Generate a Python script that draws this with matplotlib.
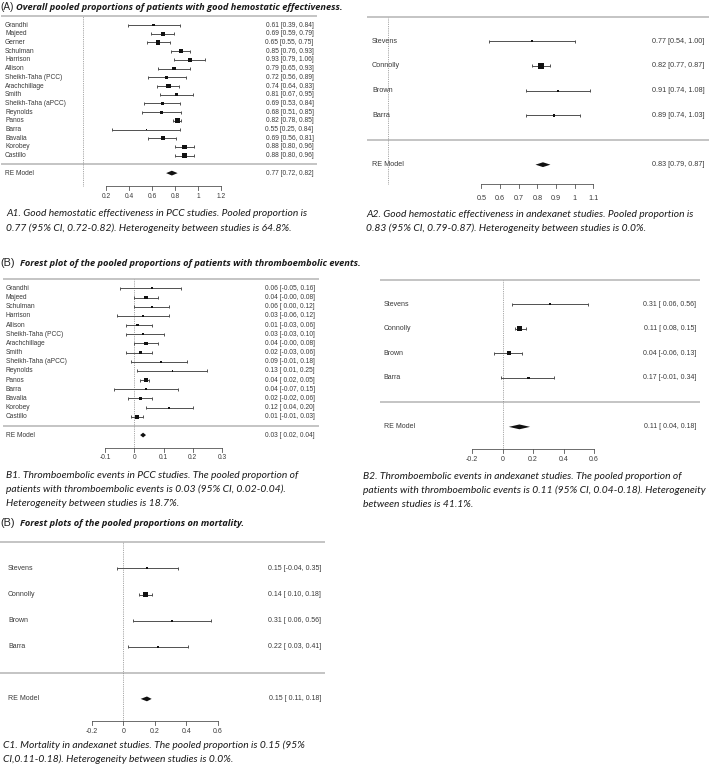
import numpy as np
import matplotlib.pyplot as plt
from matplotlib.patches import Polygon

W, H = 709, 764

# A1. good hemostatic effectiveness, PCC studies
a1_study = ["Grandhi", "Majeed", "Gerner", "Schulman", "Harrison", "Allison",
            "Sheikh-Taha (PCC)", "Arachchillage", "Smith", "Sheikh-Taha (aPCC)",
            "Reynolds", "Panos", "Barra", "Bavalia", "Korobey", "Castillo"]
a1_est = [0.61, 0.69, 0.65, 0.85, 0.93, 0.79, 0.72, 0.74, 0.81, 0.69, 0.68, 0.82, 0.55, 0.69, 0.88, 0.88]
a1_lo = [0.39, 0.59, 0.55, 0.76, 0.79, 0.65, 0.56, 0.64, 0.67, 0.53, 0.51, 0.78, 0.25, 0.56, 0.80, 0.80]
a1_hi = [0.84, 0.79, 0.75, 0.93, 1.06, 0.93, 0.89, 0.83, 0.95, 0.84, 0.85, 0.85, 0.84, 0.81, 0.96, 0.96]
a1_pool = [0.77, 0.72, 0.82]
a1_ticks = [0.2, 0.4, 0.6, 0.8, 1, 1.2]

# A2. good hemostatic effectiveness, andexanet studies
a2_study = ["Stevens", "Connolly", "Brown", "Barra"]
a2_est = [0.77, 0.82, 0.91, 0.89]
a2_lo = [0.54, 0.77, 0.74, 0.74]
a2_hi = [1.00, 0.87, 1.08, 1.03]
a2_pool = [0.83, 0.79, 0.87]
a2_ticks = [0.5, 0.6, 0.7, 0.8, 0.9, 1, 1.1]

# B1. thromboembolic events, PCC studies
b1_study = ["Grandhi", "Majeed", "Schulman", "Harrison", "Allison", "Sheikh-Taha (PCC)",
            "Arachchillage", "Smith", "Sheikh-Taha (aPCC)", "Reynolds", "Panos", "Barra",
            "Bavalia", "Korobey", "Castillo"]
b1_est = [0.06, 0.04, 0.06, 0.03, 0.01, 0.03, 0.04, 0.02, 0.09, 0.13, 0.04, 0.04, 0.02, 0.12, 0.01]
b1_lo = [-0.05, -0.0, 0.00, -0.06, -0.03, -0.03, -0.0, -0.03, -0.01, 0.01, 0.02, -0.07, -0.02, 0.04, -0.01]
b1_hi = [0.16, 0.08, 0.12, 0.12, 0.06, 0.10, 0.08, 0.06, 0.18, 0.25, 0.05, 0.15, 0.06, 0.20, 0.03]
b1_pool = [0.03, 0.02, 0.04]
b1_ticks = [-0.1, 0, 0.1, 0.2, 0.3]

# B2. thromboembolic events, andexanet studies
b2_study = ["Stevens", "Connolly", "Brown", "Barra"]
b2_est = [0.31, 0.11, 0.04, 0.17]
b2_lo = [0.06, 0.08, -0.06, -0.01]
b2_hi = [0.56, 0.15, 0.13, 0.34]
b2_pool = [0.11, 0.04, 0.18]
b2_ticks = [-0.2, 0, 0.2, 0.4, 0.6]

# C1. mortality, andexanet studies
c1_study = ["Stevens", "Connolly", "Brown", "Barra"]
c1_est = [0.15, 0.14, 0.31, 0.22]
c1_lo = [-0.04, 0.10, 0.06, 0.03]
c1_hi = [0.35, 0.18, 0.56, 0.41]
c1_pool = [0.15, 0.11, 0.18]
c1_ticks = [-0.2, 0, 0.2, 0.4, 0.6]

a1_caption = ["A1. Good hemostatic effectiveness in PCC studies. Pooled proportion is",
              "0.77 (95% CI, 0.72-0.82). Heterogeneity between studies is 64.8%."]
a2_caption = ["A2. Good hemostatic effectiveness in andexanet studies. Pooled proportion is",
              "0.83 (95% CI, 0.79-0.87). Heterogeneity between studies is 0.0%."]
b1_caption = ["B1. Thromboembolic events in PCC studies. The pooled proportion of",
              "patients with thromboembolic events is 0.03 (95% CI, 0.02-0.04).",
              "Heterogeneity between studies is 18.7%."]
b2_caption = ["B2. Thromboembolic events in andexanet studies. The pooled proportion of",
              "patients with thromboembolic events is 0.11 (95% CI, 0.04-0.18). Heterogeneity",
              "between studies is 41.1%."]
c1_caption = ["C1. Mortality in andexanet studies. The pooled proportion is 0.15 (95%",
              "CI,0.11-0.18). Heterogeneity between studies is 0.0%."]

SANS = "Liberation Sans"
CAP = "Lato"
HEAD = "Open Sans"
TXT = "#3a3a3a"

fig = plt.figure(figsize=(W / 100, H / 100), dpi=100)


def psizes(est, lo, hi):
    # random-effects weights (DerSimonian-Laird), squeezed into 0.5 .. 1.5
    y = np.array(est)
    v = ((np.array(hi) - np.array(lo)) / (2 * 1.96)) ** 2
    w = 1 / v
    yw = np.sum(w * y) / np.sum(w)
    q = np.sum(w * (y - yw) ** 2)
    c = np.sum(w) - np.sum(w ** 2) / np.sum(w)
    tau2 = max(0.0, (q - (len(y) - 1)) / c)
    wi = np.sqrt(1 / (v + tau2))
    return (wi - wi.min()) / (wi.max() - wi.min()) + 0.5


def ci_text(est, lo, hi):
    lo_s = [f"{v:.2f}" for v in lo]
    hi_s = [f"{v:.2f}" for v in hi]
    nl = max(len(s) for s in lo_s)
    nh = max(len(s) for s in hi_s)
    return [f"{e:.2f} [{a.rjust(nl)}, {b.rjust(nh)}]" for e, a, b in zip(est, lo_s, hi_s)]


def forest(box, zero_px, unit_px, row0_px, row_px, study, est, lo, hi, pool, ticks,
           label_px, value_px, axis_row, tick_gap, fs, ms):
    L, R, T, B = box
    ax = fig.add_axes([L / W, 1 - B / H, (R - L) / W, (B - T) / H])
    ax.set_xlim((L - zero_px) / unit_px, (R - zero_px) / unit_px)
    ax.set_ylim((row0_px - B) / row_px, (row0_px - T) / row_px)
    ax.axis("off")
    k = len(study)
    rows = np.arange(k, 0, -1)
    cap = 1.5 / row_px

    ax.axhline(k + 1, color="#b4b4b4", lw=1.1)
    ax.axhline(0, color="#b4b4b4", lw=1.1)
    ax.plot([0, 0], [axis_row, k + 1], ls=(0, (1, 1.2)), color="#8a8a8a", lw=0.6)

    ax.hlines(rows, lo, hi, color="#505050", lw=0.7)
    ax.vlines(lo, rows - cap, rows + cap, color="#505050", lw=0.7)
    ax.vlines(hi, rows - cap, rows + cap, color="#505050", lw=0.7)
    ax.scatter(est, rows, marker="s", s=(ms * psizes(est, lo, hi)) ** 2,
               color="#111111", linewidths=0, zorder=3)

    d = 2.4 / row_px
    ax.add_patch(Polygon([(pool[1], -1), (pool[0], -1 + d), (pool[2], -1), (pool[0], -1 - d)],
                         closed=True, color="#111111", lw=0))

    lx = (label_px - zero_px) / unit_px
    vx = (value_px - zero_px) / unit_px
    labels = ci_text(list(est) + [pool[0]], list(lo) + [pool[1]], list(hi) + [pool[2]])
    for r, name, txt in zip(list(rows) + [-1], list(study) + ["RE Model"], labels):
        ax.text(lx, r, name, ha="left", va="center", fontsize=fs, color=TXT, family=SANS)
        ax.text(vx, r, txt, ha="right", va="center", fontsize=fs, color=TXT, family=SANS)

    ax.plot([ticks[0], ticks[-1]], [axis_row, axis_row], color="#555555", lw=0.6)
    for t in ticks:
        ax.plot([t, t], [axis_row, axis_row - 4 / row_px], color="#555555", lw=0.6)
        ax.text(t, axis_row - tick_gap / row_px, f"{t:g}", ha="center", va="center",
                fontsize=fs, color=TXT, family=SANS)
    return ax


forest((1, 317, 8, 205), 83.3, 115, 164.4, 8.71, a1_study, a1_est, a1_lo, a1_hi, a1_pool,
       a1_ticks, 5, 313.5, -2.45, 11, 4.8, 2.5)
forest((367, 709, 8, 206), 388, 186.7, 140, 24.67, a2_study, a2_est, a2_lo, a2_hi, a2_pool,
       a2_ticks, 372, 704.5, -1.8, 14.5, 5.2, 2.7)
forest((3, 319, 272, 465), 134.3, 292.5, 425.9, 9.17, b1_study, b1_est, b1_lo, b1_hi, b1_pool,
       b1_ticks, 6, 315, -2.44, 9.5, 4.8, 2.3)
forest((380, 700, 272, 468), 502.7, 152.1, 402.3, 24.56, b2_study, b2_est, b2_lo, b2_hi, b2_pool,
       b2_ticks, 383.5, 696, -1.91, 10.5, 5.0, 2.5)
forest((0, 325, 536, 738), 123.4, 157, 672.8, 26.1, c1_study, c1_est, c1_lo, c1_hi, c1_pool,
       c1_ticks, 8, 321, -1.85, 10, 5.0, 2.6)


def fig_text(x, y, s, **kw):
    fig.text(x / W, 1 - y / H, s, va="center", ha="left", **kw)


# panel headings
for tag, title, y, x in [("(A)", "Overall pooled proportions of patients with good hemostatic effectiveness.", 7.5, 16),
                         ("(B)", "Forest plot of the pooled proportions of patients with thromboembolic events.", 263, 20.5),
                         ("(B)", "Forest plots of the pooled proportions on mortality.", 523.5, 20.5)]:
    fig_text(0.5, y, tag, fontsize=7.2 if tag == "(A)" else 7.8, family=SANS, color="#222222")
    fig_text(x, y, title, fontsize=6.7, family=HEAD, style="italic", weight="bold", color="#1a1a1a")

# captions
for lines, x, y0 in [(a1_caption, 6, 214), (a2_caption, 366, 214.3), (b1_caption, 6.5, 475),
                     (b2_caption, 363.3, 476), (c1_caption, 3.3, 745.3)]:
    for i, line in enumerate(lines):
        fig_text(x, y0 + i * 14.3, line, fontsize=7.4, family=CAP, style="italic", color="#1a1a1a")

fig.savefig("out.png", dpi=100)
